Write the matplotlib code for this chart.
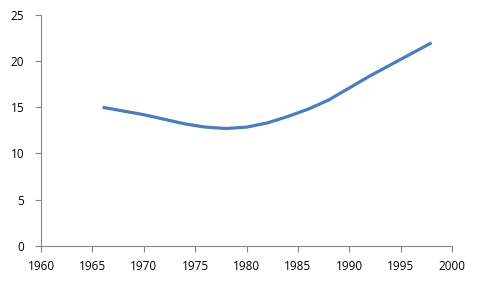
import numpy as np
import matplotlib
matplotlib.use("Agg")
import matplotlib.pyplot as plt

# values
years = [1966, 1968, 1970, 1972, 1974, 1976, 1978, 1980, 1982, 1984,
         1986, 1988, 1990, 1992, 1994, 1996, 1998]
vals = [15.0, 14.6, 14.2, 13.7, 13.2, 12.85, 12.7, 12.85, 13.3, 14.0,
        14.8, 15.8, 17.1, 18.4, 19.6, 20.8, 22.0]
xticks = [1960, 1965, 1970, 1975, 1980, 1985, 1990, 1995, 2000]
yticks = [0, 5, 10, 15, 20, 25]

plt.rcParams['font.family'] = ['Open Sans', 'DejaVu Sans']

fig = plt.figure(figsize=(4.82, 2.9), dpi=100)
ax = fig.add_axes([0.085, 0.153, 0.853, 0.795])
ax.plot(years, vals, color='#4A7EBB', lw=2.3, solid_capstyle='butt')

ax.set_xlim(1960, 2000)
ax.set_ylim(0, 25)
ax.set_xticks(xticks)
ax.set_yticks(yticks)
for s in ['top', 'right']:
    ax.spines[s].set_visible(False)
for s in ['left', 'bottom']:
    ax.spines[s].set_color('#868686')
    ax.spines[s].set_linewidth(0.8)
ax.tick_params(direction='out', length=4, width=0.8, color='#868686',
               labelsize=8.5, labelcolor='black', pad=6)
ax.tick_params(axis='y', pad=8)

fig.savefig('out.png', dpi=100)
